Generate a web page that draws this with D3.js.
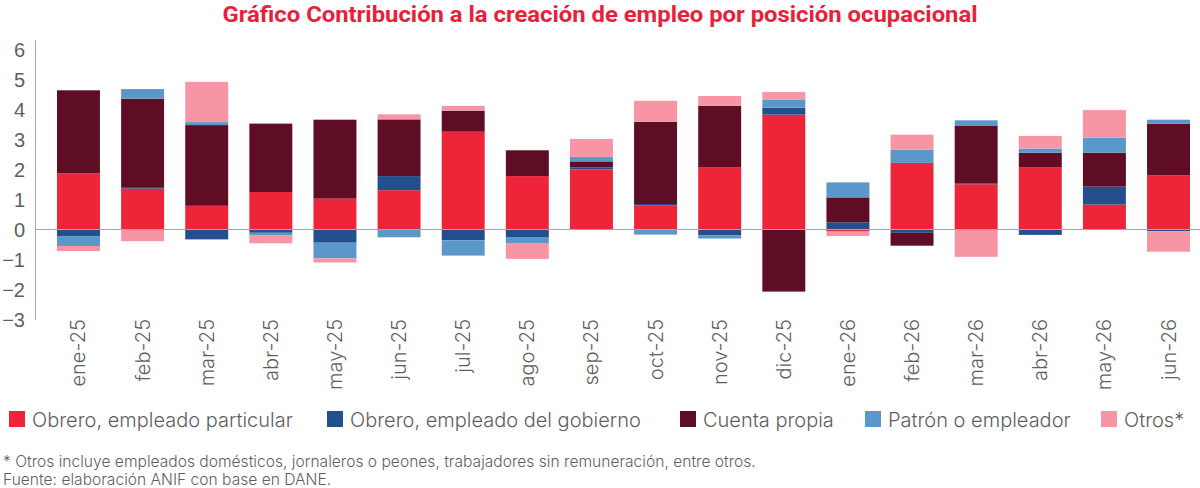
<!DOCTYPE html>
<html lang="es">
  <head>
    <meta charset="utf-8">
    <title>Contribución a la creación de empleo</title>
    <style type="text/css">
      body{
        margin: 0;
        background-color: white;
      }
      svg{
        display: block;
        font-family: Inter, Roboto, 'Noto Sans', sans-serif;
      }
      .tick text{
        font-size: 20px;
        fill: #5f5f5f;
      }
    </style>
  </head>
  <body>
    <div id='chart'></div>

    <script src="https://d3js.org/d3.v7.min.js"></script>
    <script type="text/javascript">

      // categories
      const months = ['ene-25','feb-25','mar-25','abr-25','may-25','jun-25','jul-25','ago-25','sep-25',
        'oct-25','nov-25','dic-25','ene-26','feb-26','mar-26','abr-26','may-26','jun-26'];

      // series (puntos porcentuales)
      const obreroParticular = [1.87, 1.36, 0.79, 1.25, 1.03, 1.31, 3.26, 1.78, 2.00, 0.81, 2.08, 3.83, -0.07, 2.22, 1.51, 2.08, 0.83, 1.81];
      const obreroGobierno   = [-0.22, 0.03, -0.33, -0.11, -0.44, 0.47, -0.36, -0.25, 0.07, 0.04, -0.20, 0.23, 0.24, -0.11, 0.02, -0.18, 0.60, -0.06];
      const cuentaPropia     = [2.77, 2.97, 2.69, 2.28, 2.63, 1.89, 0.70, 0.86, 0.20, 2.74, 2.04, -2.07, 0.83, -0.43, 1.92, 0.48, 1.13, 1.72];
      const patron           = [-0.33, 0.32, 0.10, -0.09, -0.52, -0.26, -0.51, -0.22, 0.15, -0.17, -0.10, 0.26, 0.50, 0.44, 0.19, 0.14, 0.50, 0.13];
      const otros            = [-0.17, -0.39, 1.34, -0.26, -0.14, 0.17, 0.16, -0.51, 0.60, 0.70, 0.33, 0.26, -0.15, 0.50, -0.91, 0.42, 0.92, -0.68];

      const seriesNames = ['Obrero, empleado particular', 'Obrero, empleado del gobierno', 'Cuenta propia', 'Patrón o empleador', 'Otros*'];
      const yTicks = [-3, -2, -1, 0, 1, 2, 3, 4, 5, 6];

      const colors = ['#ee2538', '#234f8e', '#5e0d24', '#5b97c8', '#f895a4'];
      const textGray = '#5f5f5f';

      const w = 1200;
      const h = 488;

      const keys = ['a','b','c','d','e'];
      const table = months.map(function(m, i){
        return {month: m, a: obreroParticular[i], b: obreroGobierno[i], c: cuentaPropia[i], d: patron[i], e: otros[i]};
      });

      const stack = d3.stack().keys(keys).offset(d3.stackOffsetDiverging).order(d3.stackOrderNone);
      const layers = stack(table);

      const svg = d3.select('#chart').append('svg').attr('width', w).attr('height', h);

      const scaleX = d3.scaleBand().domain(months).range([35, 1212]).paddingInner(0.33).paddingOuter(0.343);
      const scaleY = d3.scaleLinear().domain([-3, 6]).range([319.5, 49.5]);

      // title
      svg.append('text').attr('x', 600).attr('y', 22).attr('text-anchor', 'middle')
        .attr('fill', '#e8203a').style('font-family', 'Roboto, sans-serif')
        .style('font-size', '22px').style('font-weight', 'bold')
        .attr('textLength', 755).attr('lengthAdjust', 'spacingAndGlyphs')
        .text('Gráfico Contribución a la creación de empleo por posición ocupacional');

      // bars
      svg.append('g').selectAll('g').data(layers).enter().append('g')
        .attr('fill', (d, i) => colors[i])
        .selectAll('rect').data(d => d).enter().append('rect')
        .attr('x', d => scaleX(d.data.month))
        .attr('width', scaleX.bandwidth())
        .attr('y', d => scaleY(Math.max(d[0], d[1])))
        .attr('height', d => Math.abs(scaleY(d[0]) - scaleY(d[1])));

      // zero line + vertical axis line
      svg.append('line').attr('x1', 35).attr('x2', 1200).attr('y1', scaleY(0)).attr('y2', scaleY(0))
        .attr('stroke', '#a6a6a6').attr('stroke-width', 1);
      svg.append('line').attr('x1', 35.5).attr('x2', 35.5).attr('y1', 40).attr('y2', 320)
        .attr('stroke', '#a6a6a6').attr('stroke-width', 1);

      // y axis
      const yAxis = d3.axisLeft(scaleY).tickValues(yTicks).tickSize(0).tickPadding(10).tickFormat(d3.format('d'));
      const gy = svg.append('g').attr('transform', 'translate(35,0)').call(yAxis);
      gy.select('.domain').remove();
      gy.selectAll('text').attr('dy', '0.36em').style('font-weight', 300);

      // x labels (rotated)
      svg.append('g').selectAll('text').data(months).enter().append('text')
        .attr('transform', d => 'translate(' + (scaleX(d) + scaleX.bandwidth() / 2) + ',319) rotate(-90)')
        .attr('text-anchor', 'end').attr('dy', '0.35em')
        .attr('fill', textGray).style('font-size', '20px').style('font-weight', 300)
        .text(d => d);

      // legend
      const legendX = [9, 327, 680, 865, 1101];
      const legend = svg.append('g').selectAll('g').data(seriesNames).enter().append('g')
        .attr('transform', (d, i) => 'translate(' + legendX[i] + ',411)');
      legend.append('rect').attr('width', 16).attr('height', 16).attr('fill', (d, i) => colors[i]);
      legend.append('text').attr('x', 23).attr('y', 16).attr('fill', textGray)
        .style('font-size', '20px').style('font-weight', 300).text(d => d);

      // notes
      svg.append('text').attr('x', 3).attr('y', 467).attr('fill', textGray).style('font-size', '15.6px').style('font-weight', 300)
        .text('* Otros incluye empleados domésticos, jornaleros o peones, trabajadores sin remuneración, entre otros.');
      svg.append('text').attr('x', 3).attr('y', 485).attr('fill', textGray).style('font-size', '15.6px').style('font-weight', 300)
        .text('Fuente: elaboración ANIF con base en DANE.');

    </script>
  </body>
</html>
